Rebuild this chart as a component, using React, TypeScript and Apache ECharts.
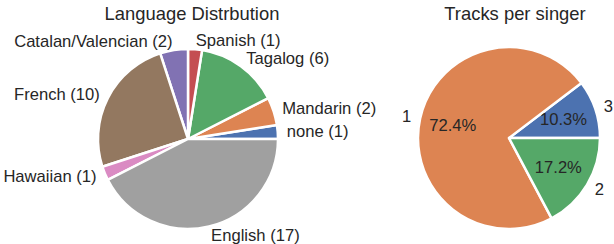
import React, { useEffect, useRef } from "react";
import * as echarts from "echarts";

const langNames = ["none", "Mandarin", "Tagalog", "Spanish", "Catalan/Valencian", "French", "Hawaiian", "English"];
const langCounts = [1, 2, 6, 1, 2, 10, 1, 17];
const langColors = ["#4C72B0", "#DD8452", "#55A868", "#C44E52", "#8172B3", "#937860", "#DA8BC3", "#A0A0A0"];

const singerNames = ["3", "1", "2"];
const singerCounts = [3, 21, 5];
const singerColors = ["#4C72B0", "#DD8452", "#55A868"];

const FONT = "'Liberation Sans', Arial, sans-serif";
const TEXT = "#262626";

export default function App() {
  const ref = useRef<HTMLDivElement>(null);
  useEffect(() => {
    if (!ref.current) return;
    const chart = echarts.init(ref.current, undefined, { renderer: "svg" });
    const R = 90;
    const outsideLabel = (fmt: any) => ({
      show: true,
      position: "outside",
      formatter: fmt,
      color: TEXT,
      fontSize: 16.6,
      fontFamily: FONT,
      distanceToLabelLine: 0,
    });
    const common = {
      type: "pie",
      startAngle: 0,
      clockwise: false,
      avoidLabelOverlap: false,
      labelLine: { show: false, length: 9, length2: 0 },
      itemStyle: { borderColor: "#ffffff", borderWidth: 2.5 },
      emphasis: { disabled: true },
    };
    const langData = langNames.map((n, i) => ({ name: n, value: langCounts[i], itemStyle: { color: langColors[i] } }));
    const singerData = singerNames.map((n, i) => ({ name: n, value: singerCounts[i], itemStyle: { color: singerColors[i] } }));
    chart.setOption({
      animation: false,
      title: [
        {
          text: "Language Distrbution",
          left: 187,
          top: -1,
          textAlign: "center",
          textStyle: { color: TEXT, fontSize: 18.4, fontWeight: "normal", fontFamily: FONT },
        },
        {
          text: "Tracks per singer",
          left: 510,
          top: -1,
          textAlign: "center",
          textStyle: { color: TEXT, fontSize: 18.4, fontWeight: "normal", fontFamily: FONT },
        },
      ],
      series: [
        {
          ...common,
          center: [188, 139],
          radius: [0, R],
          data: langData,
          label: outsideLabel((p: any) => `${p.name} (${p.value})`),
        },
        {
          ...common,
          center: [509, 138],
          radius: [0, R + 1],
          data: singerData,
          label: outsideLabel((p: any) => p.name),
        },
        {
          type: "pie",
          startAngle: 0,
          clockwise: false,
          silent: true,
          avoidLabelOverlap: false,
          center: [509, 138],
          radius: [0, (R + 1) * 1.2],
          itemStyle: { color: "transparent", borderWidth: 0 },
          labelLine: { show: false },
          emphasis: { disabled: true },
          data: singerNames.map((n, i) => ({ name: n, value: singerCounts[i] })),
          label: {
            show: true,
            position: "inside",
            formatter: (p: any) => `${p.percent.toFixed(1)}%`,
            color: TEXT,
            fontSize: 16.6,
            fontFamily: FONT,
          },
        },
      ],
    });
    return () => chart.dispose();
  }, []);
  return <div ref={ref} style={{ width: 614, height: 244, position: "absolute", left: 0, top: 0 }} />;
}
